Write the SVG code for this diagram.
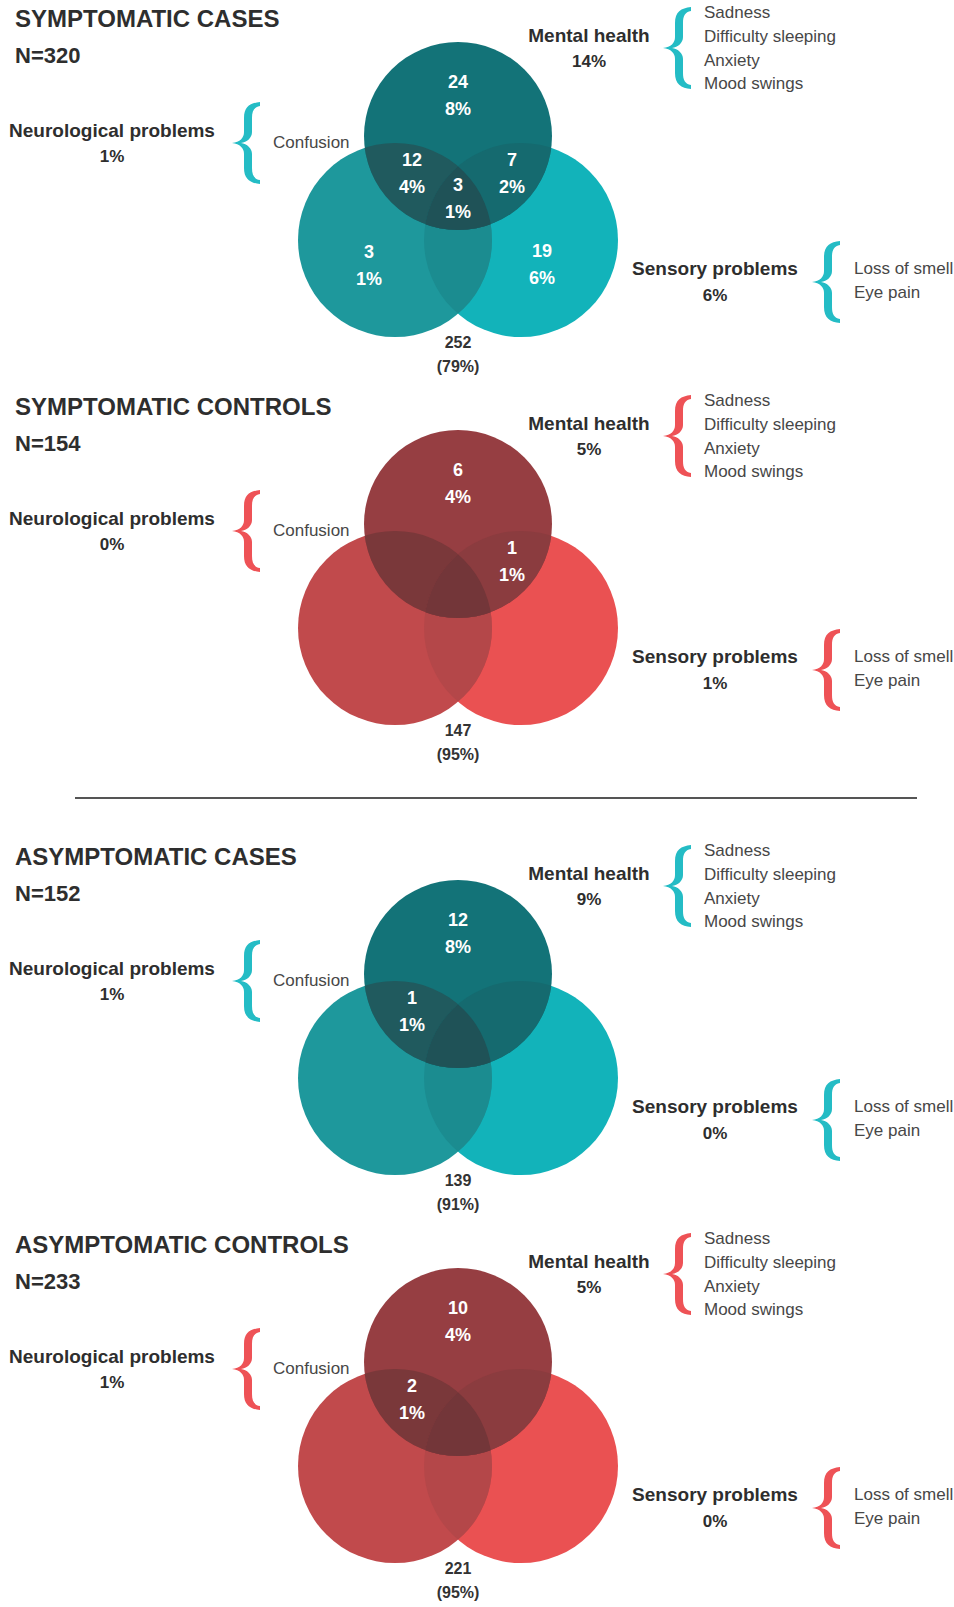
<svg xmlns="http://www.w3.org/2000/svg" width="954" height="1607" viewBox="0 0 954 1607">
<style>
text{font-family:"Liberation Sans",Arial,sans-serif}
.title{font-size:24px;font-weight:bold;fill:#2e2e2e}
.n{font-size:22px;font-weight:bold;fill:#2e2e2e}
.lab{font-size:19px;font-weight:bold;fill:#2e2e2e;text-anchor:middle}
.pct{font-size:17px;font-weight:bold;fill:#2e2e2e;text-anchor:middle}
.sym{font-size:17px;fill:#474747}
.num{font-size:18px;font-weight:bold;fill:#ffffff;text-anchor:middle}
.out{font-size:16px;font-weight:bold;fill:#333333;text-anchor:middle}
.tr-r{fill:#12b3ba}.tr-l{fill:#1e989c}.tr-lr{fill:#1b8c90}
.tr-t{fill:#137378}.tr-tl{fill:#205a5e}.tr-tr{fill:#156a6f}.tr-tlr{fill:#1f5257}
.tr-b{fill:#24bcc5}
.rd-r{fill:#ea5152}.rd-l{fill:#c14a4c}.rd-lr{fill:#b44749}
.rd-t{fill:#963e42}.rd-tl{fill:#7a383a}.rd-tr{fill:#8b3c3f}.rd-tlr{fill:#733639}
.rd-b{fill:#ee5256}
</style>
<defs>
<clipPath id="clipL" clipPathUnits="userSpaceOnUse"><circle cx="395" cy="240" r="97"/></clipPath>
<clipPath id="clipR" clipPathUnits="userSpaceOnUse"><circle cx="521" cy="240" r="97"/></clipPath>
</defs>

<g id="connectors"></g>

<g id="symptomatic-cases" transform="translate(0,0)">
<text class="title" x="15" y="27">SYMPTOMATIC CASES</text>
<text class="n" x="15" y="63">N=320</text>
<g id="venn-1">
<circle class="tr-r" cx="521" cy="240" r="97"/>
<circle class="tr-l" cx="395" cy="240" r="97"/>
<circle class="tr-lr" cx="521" cy="240" r="97" clip-path="url(#clipL)"/>
<circle class="tr-t" cx="458" cy="136" r="94"/>
<circle class="tr-tl" cx="458" cy="136" r="94" clip-path="url(#clipL)"/>
<circle class="tr-tr" cx="458" cy="136" r="94" clip-path="url(#clipR)"/>
<g clip-path="url(#clipL)"><circle class="tr-tlr" cx="458" cy="136" r="94" clip-path="url(#clipR)"/></g>
</g>
<g id="neuro-1">
<text class="lab" x="112" y="137">Neurological problems</text>
<text class="pct" x="112" y="162">1%</text>
<path class="tr-b" transform="translate(232,102)" d="M28,0 C18,1 12,5 12,16 L12,30 C12,36 8,40 0,41 C8,42 12,46 12,52 L12,66 C12,77 18,81 28,82 L28,78 C22,77 20,73 20,66 L20,52 C20,46 15,42 9,41 C15,40 20,36 20,30 L20,16 C20,9 22,5 28,4 Z"/>
<text class="sym" x="273" y="148">Confusion</text>
</g>
<g id="mental-1">
<text class="lab" x="589" y="42">Mental health</text>
<text class="pct" x="589" y="67">14%</text>
<path class="tr-b" transform="translate(663,7)" d="M28,0 C18,1 12,5 12,16 L12,30 C12,36 8,40 0,41 C8,42 12,46 12,52 L12,66 C12,77 18,81 28,82 L28,78 C22,77 20,73 20,66 L20,52 C20,46 15,42 9,41 C15,40 20,36 20,30 L20,16 C20,9 22,5 28,4 Z"/>
<text class="sym" x="704" y="18">Sadness</text>
<text class="sym" x="704" y="42">Difficulty sleeping</text>
<text class="sym" x="704" y="66">Anxiety</text>
<text class="sym" x="704" y="89">Mood swings</text>
</g>
<g id="sensory-1">
<text class="lab" x="715" y="275">Sensory problems</text>
<text class="pct" x="715" y="301">6%</text>
<path class="tr-b" transform="translate(812,241)" d="M28,0 C18,1 12,5 12,16 L12,30 C12,36 8,40 0,41 C8,42 12,46 12,52 L12,66 C12,77 18,81 28,82 L28,78 C22,77 20,73 20,66 L20,52 C20,46 15,42 9,41 C15,40 20,36 20,30 L20,16 C20,9 22,5 28,4 Z"/>
<text class="sym" x="854" y="274">Loss of smell</text>
<text class="sym" x="854" y="298">Eye pain</text>
</g>
<g id="counts-1">
<text class="num" x="458" y="88">24</text><text class="num" x="458" y="115">8%</text>
<text class="num" x="412" y="166">12</text><text class="num" x="412" y="193">4%</text>
<text class="num" x="458" y="191">3</text><text class="num" x="458" y="218">1%</text>
<text class="num" x="512" y="166">7</text><text class="num" x="512" y="193">2%</text>
<text class="num" x="369" y="258">3</text><text class="num" x="369" y="285">1%</text>
<text class="num" x="542" y="257">19</text><text class="num" x="542" y="284">6%</text>
<text class="out" x="458" y="348">252</text><text class="out" x="458" y="372">(79%)</text>
</g>
</g>

<g id="symptomatic-controls" transform="translate(0,388)">
<text class="title" x="15" y="27">SYMPTOMATIC CONTROLS</text>
<text class="n" x="15" y="63">N=154</text>
<g id="venn-2">
<circle class="rd-r" cx="521" cy="240" r="97"/>
<circle class="rd-l" cx="395" cy="240" r="97"/>
<circle class="rd-lr" cx="521" cy="240" r="97" clip-path="url(#clipL)"/>
<circle class="rd-t" cx="458" cy="136" r="94"/>
<circle class="rd-tl" cx="458" cy="136" r="94" clip-path="url(#clipL)"/>
<circle class="rd-tr" cx="458" cy="136" r="94" clip-path="url(#clipR)"/>
<g clip-path="url(#clipL)"><circle class="rd-tlr" cx="458" cy="136" r="94" clip-path="url(#clipR)"/></g>
</g>
<g id="neuro-2">
<text class="lab" x="112" y="137">Neurological problems</text>
<text class="pct" x="112" y="162">0%</text>
<path class="rd-b" transform="translate(232,102)" d="M28,0 C18,1 12,5 12,16 L12,30 C12,36 8,40 0,41 C8,42 12,46 12,52 L12,66 C12,77 18,81 28,82 L28,78 C22,77 20,73 20,66 L20,52 C20,46 15,42 9,41 C15,40 20,36 20,30 L20,16 C20,9 22,5 28,4 Z"/>
<text class="sym" x="273" y="148">Confusion</text>
</g>
<g id="mental-2">
<text class="lab" x="589" y="42">Mental health</text>
<text class="pct" x="589" y="67">5%</text>
<path class="rd-b" transform="translate(663,7)" d="M28,0 C18,1 12,5 12,16 L12,30 C12,36 8,40 0,41 C8,42 12,46 12,52 L12,66 C12,77 18,81 28,82 L28,78 C22,77 20,73 20,66 L20,52 C20,46 15,42 9,41 C15,40 20,36 20,30 L20,16 C20,9 22,5 28,4 Z"/>
<text class="sym" x="704" y="18">Sadness</text>
<text class="sym" x="704" y="42">Difficulty sleeping</text>
<text class="sym" x="704" y="66">Anxiety</text>
<text class="sym" x="704" y="89">Mood swings</text>
</g>
<g id="sensory-2">
<text class="lab" x="715" y="275">Sensory problems</text>
<text class="pct" x="715" y="301">1%</text>
<path class="rd-b" transform="translate(812,241)" d="M28,0 C18,1 12,5 12,16 L12,30 C12,36 8,40 0,41 C8,42 12,46 12,52 L12,66 C12,77 18,81 28,82 L28,78 C22,77 20,73 20,66 L20,52 C20,46 15,42 9,41 C15,40 20,36 20,30 L20,16 C20,9 22,5 28,4 Z"/>
<text class="sym" x="854" y="274">Loss of smell</text>
<text class="sym" x="854" y="298">Eye pain</text>
</g>
<g id="counts-2">
<text class="num" x="458" y="88">6</text><text class="num" x="458" y="115">4%</text>
<text class="num" x="512" y="166">1</text><text class="num" x="512" y="193">1%</text>
<text class="out" x="458" y="348">147</text><text class="out" x="458" y="372">(95%)</text>
</g>
</g>

<g id="divider"><line x1="75" y1="798" x2="917" y2="798" stroke="#555555" stroke-width="2"/></g>

<g id="asymptomatic-cases" transform="translate(0,838)">
<text class="title" x="15" y="27">ASYMPTOMATIC CASES</text>
<text class="n" x="15" y="63">N=152</text>
<g id="venn-3">
<circle class="tr-r" cx="521" cy="240" r="97"/>
<circle class="tr-l" cx="395" cy="240" r="97"/>
<circle class="tr-lr" cx="521" cy="240" r="97" clip-path="url(#clipL)"/>
<circle class="tr-t" cx="458" cy="136" r="94"/>
<circle class="tr-tl" cx="458" cy="136" r="94" clip-path="url(#clipL)"/>
<circle class="tr-tr" cx="458" cy="136" r="94" clip-path="url(#clipR)"/>
<g clip-path="url(#clipL)"><circle class="tr-tlr" cx="458" cy="136" r="94" clip-path="url(#clipR)"/></g>
</g>
<g id="neuro-3">
<text class="lab" x="112" y="137">Neurological problems</text>
<text class="pct" x="112" y="162">1%</text>
<path class="tr-b" transform="translate(232,102)" d="M28,0 C18,1 12,5 12,16 L12,30 C12,36 8,40 0,41 C8,42 12,46 12,52 L12,66 C12,77 18,81 28,82 L28,78 C22,77 20,73 20,66 L20,52 C20,46 15,42 9,41 C15,40 20,36 20,30 L20,16 C20,9 22,5 28,4 Z"/>
<text class="sym" x="273" y="148">Confusion</text>
</g>
<g id="mental-3">
<text class="lab" x="589" y="42">Mental health</text>
<text class="pct" x="589" y="67">9%</text>
<path class="tr-b" transform="translate(663,7)" d="M28,0 C18,1 12,5 12,16 L12,30 C12,36 8,40 0,41 C8,42 12,46 12,52 L12,66 C12,77 18,81 28,82 L28,78 C22,77 20,73 20,66 L20,52 C20,46 15,42 9,41 C15,40 20,36 20,30 L20,16 C20,9 22,5 28,4 Z"/>
<text class="sym" x="704" y="18">Sadness</text>
<text class="sym" x="704" y="42">Difficulty sleeping</text>
<text class="sym" x="704" y="66">Anxiety</text>
<text class="sym" x="704" y="89">Mood swings</text>
</g>
<g id="sensory-3">
<text class="lab" x="715" y="275">Sensory problems</text>
<text class="pct" x="715" y="301">0%</text>
<path class="tr-b" transform="translate(812,241)" d="M28,0 C18,1 12,5 12,16 L12,30 C12,36 8,40 0,41 C8,42 12,46 12,52 L12,66 C12,77 18,81 28,82 L28,78 C22,77 20,73 20,66 L20,52 C20,46 15,42 9,41 C15,40 20,36 20,30 L20,16 C20,9 22,5 28,4 Z"/>
<text class="sym" x="854" y="274">Loss of smell</text>
<text class="sym" x="854" y="298">Eye pain</text>
</g>
<g id="counts-3">
<text class="num" x="458" y="88">12</text><text class="num" x="458" y="115">8%</text>
<text class="num" x="412" y="166">1</text><text class="num" x="412" y="193">1%</text>
<text class="out" x="458" y="348">139</text><text class="out" x="458" y="372">(91%)</text>
</g>
</g>

<g id="asymptomatic-controls" transform="translate(0,1226)">
<text class="title" x="15" y="27">ASYMPTOMATIC CONTROLS</text>
<text class="n" x="15" y="63">N=233</text>
<g id="venn-4">
<circle class="rd-r" cx="521" cy="240" r="97"/>
<circle class="rd-l" cx="395" cy="240" r="97"/>
<circle class="rd-lr" cx="521" cy="240" r="97" clip-path="url(#clipL)"/>
<circle class="rd-t" cx="458" cy="136" r="94"/>
<circle class="rd-tl" cx="458" cy="136" r="94" clip-path="url(#clipL)"/>
<circle class="rd-tr" cx="458" cy="136" r="94" clip-path="url(#clipR)"/>
<g clip-path="url(#clipL)"><circle class="rd-tlr" cx="458" cy="136" r="94" clip-path="url(#clipR)"/></g>
</g>
<g id="neuro-4">
<text class="lab" x="112" y="137">Neurological problems</text>
<text class="pct" x="112" y="162">1%</text>
<path class="rd-b" transform="translate(232,102)" d="M28,0 C18,1 12,5 12,16 L12,30 C12,36 8,40 0,41 C8,42 12,46 12,52 L12,66 C12,77 18,81 28,82 L28,78 C22,77 20,73 20,66 L20,52 C20,46 15,42 9,41 C15,40 20,36 20,30 L20,16 C20,9 22,5 28,4 Z"/>
<text class="sym" x="273" y="148">Confusion</text>
</g>
<g id="mental-4">
<text class="lab" x="589" y="42">Mental health</text>
<text class="pct" x="589" y="67">5%</text>
<path class="rd-b" transform="translate(663,7)" d="M28,0 C18,1 12,5 12,16 L12,30 C12,36 8,40 0,41 C8,42 12,46 12,52 L12,66 C12,77 18,81 28,82 L28,78 C22,77 20,73 20,66 L20,52 C20,46 15,42 9,41 C15,40 20,36 20,30 L20,16 C20,9 22,5 28,4 Z"/>
<text class="sym" x="704" y="18">Sadness</text>
<text class="sym" x="704" y="42">Difficulty sleeping</text>
<text class="sym" x="704" y="66">Anxiety</text>
<text class="sym" x="704" y="89">Mood swings</text>
</g>
<g id="sensory-4">
<text class="lab" x="715" y="275">Sensory problems</text>
<text class="pct" x="715" y="301">0%</text>
<path class="rd-b" transform="translate(812,241)" d="M28,0 C18,1 12,5 12,16 L12,30 C12,36 8,40 0,41 C8,42 12,46 12,52 L12,66 C12,77 18,81 28,82 L28,78 C22,77 20,73 20,66 L20,52 C20,46 15,42 9,41 C15,40 20,36 20,30 L20,16 C20,9 22,5 28,4 Z"/>
<text class="sym" x="854" y="274">Loss of smell</text>
<text class="sym" x="854" y="298">Eye pain</text>
</g>
<g id="counts-4">
<text class="num" x="458" y="88">10</text><text class="num" x="458" y="115">4%</text>
<text class="num" x="412" y="166">2</text><text class="num" x="412" y="193">1%</text>
<text class="out" x="458" y="348">221</text><text class="out" x="458" y="372">(95%)</text>
</g>
</g>
</svg>
